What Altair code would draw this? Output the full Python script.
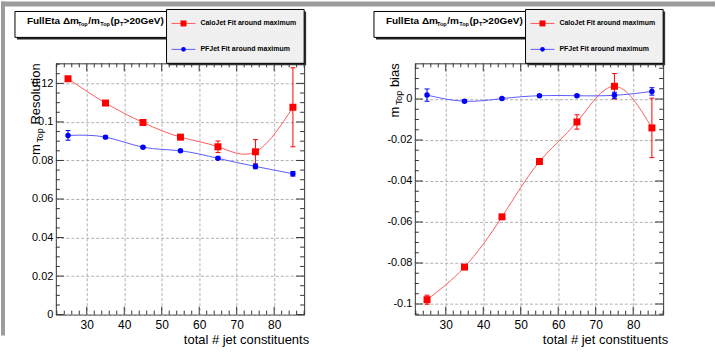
import altair as alt
import pandas as pd

# ---------------- data ----------------
x_vals = [25, 35, 45, 55, 65, 75, 85]

res_calo = [0.1224, 0.1098, 0.0997, 0.0921, 0.0871, 0.0845, 0.1076]
res_calo_err = [0.0012, 0.0006, 0.0006, 0.0012, 0.0030, 0.0063, 0.0205]
res_pf = [0.0930, 0.0921, 0.0869, 0.0850, 0.0811, 0.0769, 0.0731]
res_pf_err = [0.0025, 0.0006, 0.0005, 0.0005, 0.0006, 0.0012, 0.0012]

bias_calo = [-0.0979, -0.0820, -0.0575, -0.0305, -0.0112, 0.0062, -0.0141]
bias_calo_err = [0.0022, 0.0007, 0.0008, 0.0015, 0.0035, 0.0062, 0.0145]
bias_pf = [0.0019, -0.0011, 0.0002, 0.0016, 0.0016, 0.0018, 0.0037]
bias_pf_err = [0.0030, 0.0006, 0.0005, 0.0005, 0.0005, 0.0015, 0.0018]

x_major = [30, 40, 50, 60, 70, 80]
x_minor = [22, 24, 26, 28, 32, 34, 36, 38, 42, 44, 46, 48, 52, 54, 56, 58,
           62, 64, 66, 68, 72, 74, 76, 78, 82, 84, 86, 88]
res_major = [0, 0.02, 0.04, 0.06, 0.08, 0.1, 0.12]
res_minor = [0.005, 0.01, 0.015, 0.025, 0.03, 0.035, 0.045, 0.05, 0.055,
             0.065, 0.07, 0.075, 0.085, 0.09, 0.095, 0.105, 0.11, 0.115, 0.125, 0.13]
bias_major = [-0.1, -0.08, -0.06, -0.04, -0.02, 0]
bias_minor = [-0.105, -0.095, -0.09, -0.085, -0.075, -0.07, -0.065, -0.055, -0.05,
              -0.045, -0.035, -0.03, -0.025, -0.015, -0.01, -0.005, 0.005, 0.01, 0.015]

legend_calo = "CaloJet Fit around maximum"
legend_pf = "PFJet Fit around maximum"
x_title = "total # jet constituents"

# ---------------- style ----------------
W, H = 249, 252
FONT = "Liberation Sans"
RED, RED_L = "#ff0000", "#ff5c5c"
BLUE, BLUE_L = "#0000ff", "#5c5cff"
FRAME = "#333333"
GRAY_BG = "#9c9c9c"

xs = alt.Scale(domain=[21.75, 88.0], nice=False, zero=False)
one = pd.DataFrame({"k": [0]})

AX_X = alt.Axis(values=x_major, grid=True, gridDash=[3, 2], gridColor="#b0b0b0", gridWidth=1,
                ticks=False, domain=False, labelFontSize=12, labelPadding=5, labelFont=FONT,
                labelColor="black", title=None)


def ax_y(major):
    return alt.Axis(values=major, grid=True, gridDash=[3, 2], gridColor="#b0b0b0", gridWidth=1,
                    ticks=False, domain=False, labelFontSize=11, labelPadding=3, labelFont=FONT,
                    labelColor="black", labelExpr="'' + datum.value", title=None)


def vbox(x, x2, y, y2, **kw):
    return alt.Chart(one).mark_rect(**kw).encode(
        x=alt.value(x), x2=alt.value(x2), y=alt.value(y), y2=alt.value(y2))


def vtext(txt, x, y, **kw):
    kw.setdefault("font", FONT)
    kw.setdefault("color", "black")
    return alt.Chart(one).mark_text(text=txt, **kw).encode(x=alt.value(x), y=alt.value(y))


def series_layers(vals, errs, ys, ay, line_col, pt_col, square):
    df = pd.DataFrame({"x": x_vals, "y": vals, "err": errs})
    X = alt.X("x:Q", scale=xs, axis=AX_X)
    base = alt.Chart(df)
    line = base.mark_line(interpolate="natural", color=line_col, strokeWidth=1).encode(
        x=X, y=alt.Y("y:Q", scale=ys, axis=ay))
    eb = base.transform_calculate(lo="datum.y - datum.err", hi="datum.y + datum.err")
    bars = eb.mark_rule(color=pt_col, strokeWidth=1).encode(
        x=X, y=alt.Y("lo:Q", scale=ys, axis=ay), y2=alt.Y2("hi:Q"))
    cap_lo = eb.mark_tick(orient="horizontal", size=5, thickness=1, color=pt_col, opacity=1).encode(
        x=X, y=alt.Y("lo:Q", scale=ys, axis=ay))
    cap_hi = eb.mark_tick(orient="horizontal", size=5, thickness=1, color=pt_col, opacity=1).encode(
        x=X, y=alt.Y("hi:Q", scale=ys, axis=ay))
    if square:
        pts = base.mark_point(shape="square", filled=True, size=49, color=pt_col, opacity=1)
    else:
        pts = base.mark_circle(size=30, color=pt_col, opacity=1)
    pts = pts.encode(x=X, y=alt.Y("y:Q", scale=ys, axis=ay))
    return [line, bars, cap_lo, cap_hi, pts]


def tick_layers(ys, ay, ymajor, yminor):
    out = []
    for vals, L in ((x_major, 8), (x_minor, 4)):
        d = pd.DataFrame({"v": vals})
        out.append(alt.Chart(d).mark_rule(color=FRAME, strokeWidth=1).encode(
            x=alt.X("v:Q", scale=xs, axis=AX_X), y=alt.value(H), y2=alt.value(H - L)))
        out.append(alt.Chart(d).mark_rule(color=FRAME, strokeWidth=1).encode(
            x=alt.X("v:Q", scale=xs, axis=AX_X), y=alt.value(0), y2=alt.value(L)))
    for vals, L in ((ymajor, 8), (yminor, 4)):
        d = pd.DataFrame({"v": vals})
        out.append(alt.Chart(d).mark_rule(color=FRAME, strokeWidth=1).encode(
            y=alt.Y("v:Q", scale=ys, axis=ay), x=alt.value(0), x2=alt.value(L)))
        out.append(alt.Chart(d).mark_rule(color=FRAME, strokeWidth=1).encode(
            y=alt.Y("v:Q", scale=ys, axis=ay), x=alt.value(W), x2=alt.value(W - L)))
    return out


def title_layers():
    out = [vbox(-39, 114, -50, -24, fill="#222222"),
           vbox(-41, 112, -52, -26, fill="white", stroke="black", strokeWidth=1)]
    big = dict(fontSize=10, fontWeight="bold", align="left", baseline="alphabetic")
    sub = dict(fontSize=5.5, fontWeight="bold", align="left", baseline="alphabetic")
    yb, ysb = -39.3, -37
    out += [vtext("FullEta \u0394m", -29, yb, **big),
            vtext("Top", 22.3, ysb, **sub),
            vtext("/m", 32.6, yb, **big),
            vtext("Top", 44.5, ysb, **sub),
            vtext("(p", 54.8, yb, **big),
            vtext("T", 64.3, ysb, **sub),
            vtext(">20GeV)", 67.9, yb, **big)]
    return out


def legend_layers():
    out = [vbox(113, 251, -52, 2, fill="#333333"),
           vbox(111, 249, -54, 0, fill="#f0f0f0", stroke="black", strokeWidth=1)]
    for ypos, lc, pc, sq, txt in ((-40, RED_L, RED, True, legend_calo),
                                  (-14, BLUE_L, BLUE, False, legend_pf)):
        out.append(alt.Chart(one).mark_rule(color=lc, strokeWidth=1).encode(
            x=alt.value(116), x2=alt.value(140), y=alt.value(ypos)))
        if sq:
            m = alt.Chart(one).mark_point(shape="square", filled=True, size=36, color=pc, opacity=1)
        else:
            m = alt.Chart(one).mark_circle(size=22, color=pc, opacity=1)
        out.append(m.encode(x=alt.value(128), y=alt.value(ypos)))
        out.append(vtext(txt, 145, ypos, fontSize=7, fontWeight="bold", align="left", baseline="middle"))
    return out


def ytitle_layers(word, word_len):
    bx = -16
    out = [vtext(word, bx, 0, fontSize=13, angle=270, align="right", baseline="alphabetic")]
    top_end = word_len + 3.6
    out.append(vtext("Top", bx + 3, top_end, fontSize=9, angle=270, align="right", baseline="alphabetic"))
    out.append(vtext("m", bx, top_end + 16, fontSize=13, angle=270, align="right", baseline="alphabetic"))
    return out


def panel(calo, calo_err, pf, pf_err, ydom, ymajor, yminor, word, word_len, extra=None):
    ys = alt.Scale(domain=ydom, nice=False, zero=False)
    ay = ax_y(ymajor)
    layers = []
    if extra:
        layers += extra
    layers += series_layers(calo, calo_err, ys, ay, RED_L, RED, True)
    layers += series_layers(pf, pf_err, ys, ay, BLUE_L, BLUE, False)
    layers += tick_layers(ys, ay, ymajor, yminor)
    layers += ytitle_layers(word, word_len)
    layers.append(vtext(x_title, 254, 281, fontSize=13, align="right", baseline="alphabetic"))
    layers += title_layers()
    layers += legend_layers()
    return alt.layer(*layers).properties(width=W, height=H)


frame_bg = [vbox(-55, -51, -62, 273, fill=GRAY_BG),
            vbox(-55, 661, -62, -57, fill=GRAY_BG),
            vbox(-55, 661, 298, 299, fill="white")]

left = panel(res_calo, res_calo_err, res_pf, res_pf_err, [0, 0.1304],
             res_major, res_minor, "Resolution", 61.4, extra=frame_bg)
right = panel(bias_calo, bias_calo_err, bias_pf, bias_pf_err, [-0.1052, 0.0174],
              bias_major, bias_minor, "bias", 23.8)

chart = alt.hconcat(left, right, spacing=111, bounds="flush").properties(
    autosize=alt.AutoSizeParams(type="pad"), padding=0, background="white"
).configure_view(stroke=FRAME, strokeWidth=1)

chart.save("out.html", embed_options={"renderer": "svg", "actions": False})
